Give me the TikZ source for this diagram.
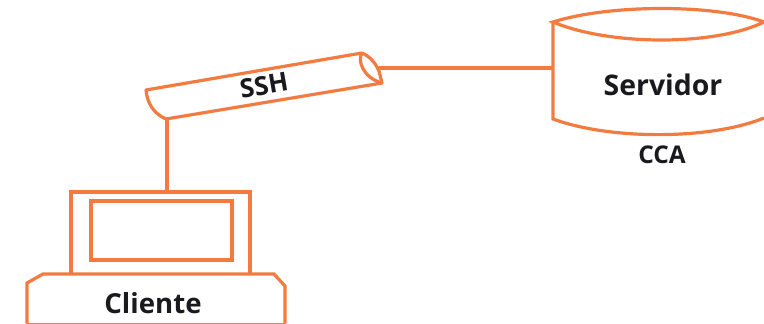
\documentclass[tikz,border=0pt]{standalone}
\usepackage{fontspec}
\setmainfont{Open Sans}
\definecolor{lineorange}{HTML}{F37B3F}
\definecolor{inkblack}{HTML}{1A1A1E}
\tikzset{
  outline/.style={draw=lineorange,line width=2.7pt,line join=miter},
  thinline/.style={draw=lineorange,line width=2.4pt},
  lbl/.style={text=inkblack,font=\bfseries,inner sep=0pt,anchor=center}
}
\begin{document}
\begin{tikzpicture}[x=0.75pt,y=-0.75pt]
\useasboundingbox (0,0) rectangle (764,324);
\fill[white] (0,0) rectangle (764,324);
% named attachment points
\coordinate (tubeBottom) at (167,119);
\coordinate (tubeEnd) at (379,68);
\coordinate (monitorTop) at (167,192);
\coordinate (serverLeft) at (553,68);
% connectors
\draw[thinline] (tubeBottom) -- (monitorTop);
\draw[thinline] (tubeEnd) -- (serverLeft);
% tube
\draw[thinline,line join=round] (362,53) -- (146,90) .. controls (147,103) and (154,114) .. (166,119) -- (382,83) -- (379,71) .. controls (375,62) and (369,56) .. (362,53);
\draw[thinline] (362,53) .. controls (357,60) and (363,78) .. (382,83);
\node[lbl,rotate=9.7,font=\bfseries\fontsize{19.5}{23}\selectfont] (ssh) at (264,85.5) {SSH};
% server
\draw[thinline] (764,22) .. controls (715,4) and (610,4) .. (553,22) .. controls (610,46) and (715,46) .. (764,22);
\draw[thinline] (553,22) -- (553,119) .. controls (610,140) and (710,140) .. (764,118);
\node[lbl,font=\bfseries\fontsize{21.3}{25}\selectfont] (servidor) at (663,84.5) {Servidor};
\node[lbl,font=\bfseries\fontsize{18.3}{22}\selectfont] (cca) at (662,155) {CCA};
% client
\draw[outline] (71,274) -- (71,192) -- (250,192) -- (250,274);
\draw[outline] (91,201) rectangle (232,260);
\draw[thinline] (27,323.5) -- (27,283) -- (43,274) -- (274,274) -- (285,286) -- (285,323.5);
\draw[lineorange,line width=1pt] (27,323.5) -- (285,323.5);
\node[lbl,font=\bfseries\fontsize{20.7}{25}\selectfont] (cliente) at (153,303) {Cliente};
\end{tikzpicture}
\end{document}
